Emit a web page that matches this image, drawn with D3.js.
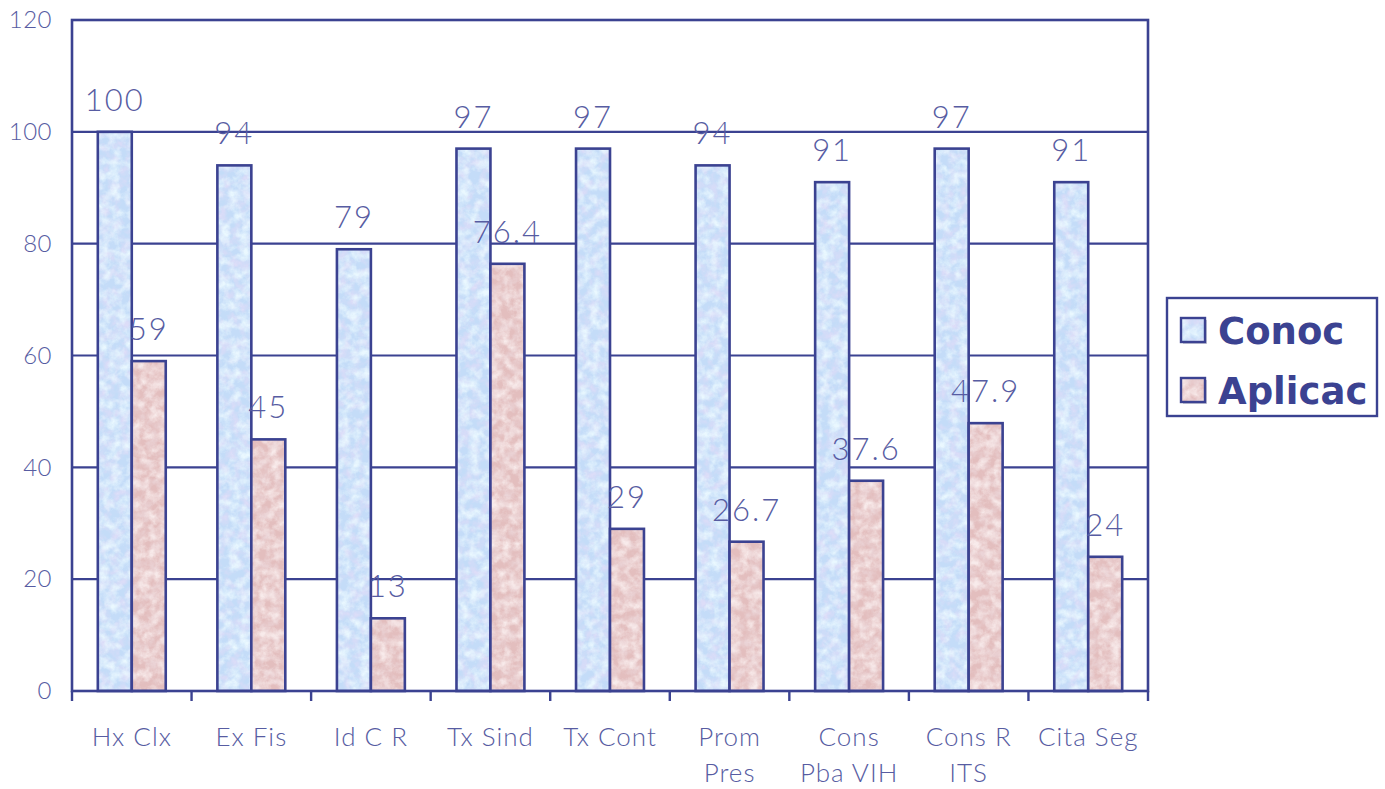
<!DOCTYPE html>
<html>
<head>
<meta charset="utf-8">
<script src="https://cdn.jsdelivr.net/npm/d3@7"></script>
<style>
  html, body { margin: 0; padding: 0; background: #fff; }
</style>
</head>
<body>
<script>
// Data
const categories = [['Hx Clx'], ['Ex Fis'], ['Id C R'], ['Tx Sind'], ['Tx Cont'], ['Prom', 'Pres'], ['Cons', 'Pba VIH'], ['Cons R', 'ITS'], ['Cita Seg']]
const conoc = [100, 94, 79, 97, 97, 94, 91, 97, 91]
const aplicac = [59, 45, 13, 76.4, 29, 26.7, 37.6, 47.9, 24]
const seriesNames = ['Conoc', 'Aplicac']
const yTicks = [0, 20, 40, 60, 80, 100, 120]

const W = 1385, H = 789
const plot = { left: 72, top: 20, right: 1148, bottom: 691 }
const ink = '#3b4291'
const labelInk = '#575ca2'
const numFont = "Lato, 'Open Sans', sans-serif"

const svg = d3.select('body').append('svg')
  .attr('width', W).attr('height', H)

// Textured fills (mottled marble look), one tile covers the whole chart so no seams
const defs = svg.append('defs')
const tile = 1400
const textures = [
  { id: 'tex-blue', base: '#c4dcf8', layers: [['0.72 0.72 0.94', 5], ['0.82 0.94 1.0', 11]] },
  { id: 'tex-pink', base: '#e3bebe', layers: [['0.83 0.66 0.68', 5], ['0.94 0.83 0.83', 11]] },
]
textures.forEach(t => {
  const p = defs.append('pattern').attr('id', t.id)
    .attr('patternUnits', 'userSpaceOnUse').attr('width', tile).attr('height', tile)
  p.append('rect').attr('width', tile).attr('height', tile).attr('fill', t.base)
  t.layers.forEach(([rgb, seed], k) => {
    const [r, g, b] = rgb.split(' ')
    const fid = `${t.id}-f${k}`
    const f = defs.append('filter').attr('id', fid)
      .attr('x', 0).attr('y', 0).attr('width', 1).attr('height', 1)
    f.append('feTurbulence').attr('type', 'fractalNoise')
      .attr('baseFrequency', 0.1).attr('numOctaves', 4).attr('seed', seed)
    f.append('feColorMatrix').attr('type', 'matrix')
      .attr('values', `0 0 0 0 ${r}  0 0 0 0 ${g}  0 0 0 0 ${b}  2.2 0 0 0 -0.85`)
    p.append('rect').attr('width', tile).attr('height', tile).attr('filter', `url(#${fid})`)
  })
})
const fills = ['url(#tex-blue)', 'url(#tex-pink)']

// Scales
const x0 = d3.scaleBand()
  .domain(d3.range(categories.length))
  .range([plot.left, plot.right])
  .padding(0)
const x1 = d3.scaleBand()
  .domain(seriesNames)
  .range([0, x0.bandwidth()])
  .paddingInner(0)
  .paddingOuter(0.76)
const y = d3.scaleLinear().domain([0, 120]).range([plot.bottom, plot.top])

// Grid lines
svg.append('g').selectAll('line')
  .data(yTicks.filter(t => t > 0 && t < 120))
  .join('line')
  .attr('x1', plot.left).attr('x2', plot.right)
  .attr('y1', d => y(d)).attr('y2', d => y(d))
  .attr('stroke', ink).attr('stroke-width', 2.2)

// Bars
const series = [conoc, aplicac]
series.forEach((vals, si) => {
  svg.append('g').selectAll('rect')
    .data(vals)
    .join('rect')
    .attr('x', (d, i) => x0(i) + x1(seriesNames[si]))
    .attr('y', d => y(d))
    .attr('width', x1.bandwidth())
    .attr('height', d => y(0) - y(d))
    .attr('fill', fills[si])
    .attr('stroke', ink).attr('stroke-width', 2.6)
})

// Plot frame
svg.append('rect')
  .attr('x', plot.left).attr('y', plot.top)
  .attr('width', plot.right - plot.left).attr('height', plot.bottom - plot.top)
  .attr('fill', 'none').attr('stroke', ink).attr('stroke-width', 2.6)

// Y axis
const yAxis = svg.append('g')
  .attr('transform', `translate(${plot.left},0)`)
  .call(d3.axisLeft(y).tickValues(yTicks).tickSize(0).tickPadding(20))
yAxis.select('.domain').remove()
yAxis.selectAll('text')
  .style('font-family', numFont).style('font-weight', 300)
  .style('font-size', '24px').style('letter-spacing', '0.5px').attr('fill', labelInk)

// X axis ticks at category boundaries
const bounds = d3.range(categories.length + 1).map(i => i < categories.length ? x0(i) : plot.right)
svg.append('g').selectAll('line')
  .data(bounds)
  .join('line')
  .attr('x1', d => d).attr('x2', d => d)
  .attr('y1', plot.bottom).attr('y2', plot.bottom + 10)
  .attr('stroke', ink).attr('stroke-width', 2.4)

// Category labels
const catText = svg.append('g').selectAll('text')
  .data(categories)
  .join('text')
  .attr('text-anchor', 'middle')
  .style('font-family', numFont).style('font-weight', 300)
  .style('font-size', '26px').style('letter-spacing', '1px').attr('fill', labelInk)
catText.each(function (lines, i) {
  d3.select(this).selectAll('tspan')
    .data(lines)
    .join('tspan')
    .attr('x', x0(i) + x0.bandwidth() / 2)
    .attr('y', (d, j) => 746 + j * 36)
    .text(d => d)
})

// Value labels
series.forEach((vals, si) => {
  svg.append('g').selectAll('text')
    .data(vals)
    .join('text')
    .attr('x', (d, i) => x0(i) + x1(seriesNames[si]) + x1.bandwidth() / 2)
    .attr('y', d => y(d) - 21)
    .attr('text-anchor', 'middle')
    .style('font-family', numFont).style('font-weight', 300)
    .style('font-size', '31px').style('letter-spacing', '2px').attr('fill', labelInk)
    .text(d => d)
})

// Legend
const legend = svg.append('g').attr('transform', 'translate(1167,298)')
legend.append('rect')
  .attr('width', 210).attr('height', 118)
  .attr('fill', '#fff').attr('stroke', ink).attr('stroke-width', 2.4)
seriesNames.forEach((name, i) => {
  const g = legend.append('g').attr('transform', `translate(14,${20 + i * 60})`)
  g.append('rect').attr('x', 2).attr('y', 2).attr('width', 24).attr('height', 24).attr('fill', '#c9c9d6')
  g.append('rect').attr('width', 24).attr('height', 24)
    .attr('fill', fills[i]).attr('stroke', ink).attr('stroke-width', 2.4)
  g.append('text')
    .attr('x', 37).attr('y', 26)
    .style('font-family', "'DejaVu Sans', sans-serif").style('font-weight', 700)
    .style('font-size', '37px').attr('fill', ink)
    .text(name)
})
</script>
</body>
</html>
